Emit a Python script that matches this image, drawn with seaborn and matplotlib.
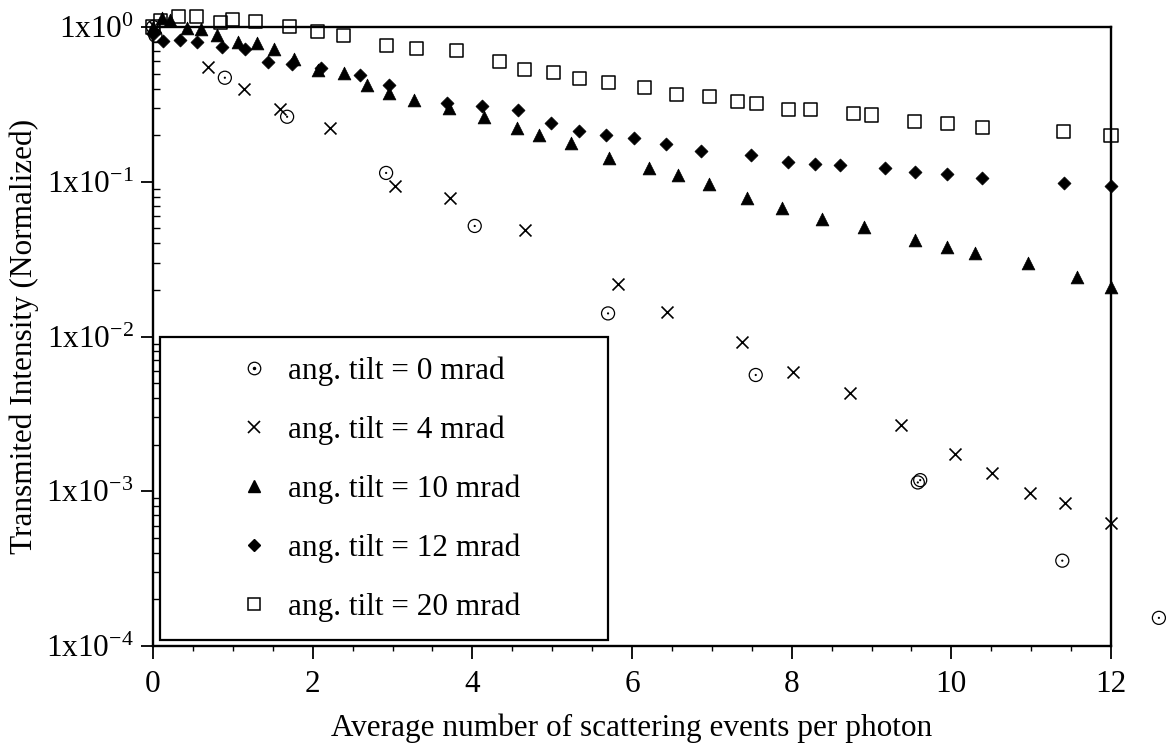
import numpy as np
import pandas as pd
import matplotlib
matplotlib.use("Agg")
import matplotlib.pyplot as plt
import seaborn as sns
from matplotlib.lines import Line2D
from matplotlib.patches import Rectangle
from matplotlib.legend_handler import HandlerTuple
from matplotlib.ticker import FixedLocator, LogLocator, FuncFormatter, MultipleLocator, NullFormatter

# values (x = scattering events, y = normalized intensity)
x_0 = [0.0, 0.03, 0.90, 1.68, 2.92, 4.03, 5.70, 7.55, 9.58, 9.61, 11.39, 12.6]
y_0 = [1.0, 0.88, 0.47, 0.263, 0.114, 0.0518, 0.0141, 0.00564, 0.00114, 0.00118, 0.000356, 0.000152]

x_4 = [0.02, 0.69, 1.14, 1.59, 2.22, 3.03, 3.72, 4.66, 5.82, 6.44, 7.38, 8.02, 8.73,
       9.37, 10.05, 10.51, 10.99, 11.43, 12.0]
y_4 = [1.0, 0.554, 0.396, 0.295, 0.224, 0.094, 0.078, 0.049, 0.0218, 0.0145, 0.00926, 0.00593, 0.0043,
       0.00268, 0.00174, 0.00131, 0.00097, 0.00084, 0.00062]

x_10 = [0.0, 0.11, 0.21, 0.42, 0.60, 0.80, 1.07, 1.30, 1.51, 1.76, 2.07, 2.39, 2.68, 2.95, 3.27, 3.71,
        4.14, 4.56, 4.84, 5.24, 5.71, 6.21, 6.57, 6.97, 7.44, 7.88, 8.38, 8.91, 9.54, 9.95, 10.30,
        10.96, 11.57, 12.0]
y_10 = [1.0, 1.14, 1.11, 0.98, 0.966, 0.89, 0.80, 0.79, 0.718, 0.618, 0.527, 0.502, 0.422, 0.376, 0.335, 0.299,
        0.261, 0.222, 0.201, 0.177, 0.142, 0.122, 0.111, 0.0967, 0.078, 0.0673, 0.0574, 0.0508, 0.042, 0.038, 0.0345,
        0.030, 0.0244, 0.021]

x_12 = [0.0, 0.12, 0.34, 0.555, 0.86, 1.15, 1.44, 1.74, 2.11, 2.59, 2.95, 3.68, 4.12, 4.57, 4.98, 5.33,
        5.67, 6.03, 6.42, 6.87, 7.49, 7.95, 8.29, 8.60, 9.17, 9.54, 9.95, 10.39, 11.41, 12.0]
y_12 = [0.9, 0.816, 0.824, 0.796, 0.739, 0.718, 0.597, 0.577, 0.541, 0.49, 0.422, 0.325, 0.309, 0.291, 0.241, 0.214,
        0.201, 0.191, 0.175, 0.158, 0.149, 0.135, 0.130, 0.128, 0.122, 0.115, 0.112, 0.106, 0.0986, 0.094]

x_20 = [0.0, 0.1, 0.32, 0.54, 0.84, 0.99, 1.29, 1.71, 2.06, 2.39, 2.92, 3.30, 3.80, 4.34, 4.65, 5.02,
        5.34, 5.71, 6.16, 6.56, 6.97, 7.32, 7.56, 7.96, 8.23, 8.78, 9.00, 9.54, 9.95, 10.39, 11.41, 12.0]
y_20 = [1.0, 1.1, 1.17, 1.17, 1.07, 1.12, 1.08, 1.01, 0.93, 0.875, 0.754, 0.73, 0.703, 0.597, 0.533, 0.507,
        0.466, 0.436, 0.408, 0.367, 0.355, 0.329, 0.321, 0.295, 0.291, 0.277, 0.27, 0.244, 0.239, 0.225, 0.21, 0.20]

labels = ['ang. tilt = 0 mrad', 'ang. tilt = 4 mrad', 'ang. tilt = 10 mrad',
          'ang. tilt = 12 mrad', 'ang. tilt = 20 mrad']
y_ticks = [1e-4, 1e-3, 1e-2, 1e-1, 1e0]
x_ticks = [0, 2, 4, 6, 8, 10, 12]

sns.set_style("ticks")
plt.rcParams['font.family'] = ['Liberation Serif', 'DejaVu Serif']
plt.rcParams['mathtext.fontset'] = 'custom'
plt.rcParams['mathtext.rm'] = 'Liberation Serif'
plt.rcParams['mathtext.it'] = 'Liberation Serif:italic'
plt.rcParams['mathtext.bf'] = 'Liberation Serif:bold'
plt.rcParams['mathtext.default'] = 'regular'
plt.rcParams['text.color'] = 'black'
plt.rcParams['axes.labelcolor'] = 'black'
plt.rcParams['xtick.color'] = 'black'
plt.rcParams['ytick.color'] = 'black'

FS = 22.5

fig = plt.figure(figsize=(11.69, 7.46), dpi=100)
ax = fig.add_axes([153 / 1169, 1 - 646 / 746, (1111 - 153) / 1169, (646 - 27) / 746])

common = dict(ax=ax, clip_on=False, legend=False, zorder=3)
sns.scatterplot(x=x_0, y=y_0, marker='o', s=88, facecolor='none', edgecolor='black', linewidth=0.9, **common)
sns.scatterplot(x=x_0, y=y_0, marker='o', s=2.5, color='black', edgecolor='none', linewidth=0, **common)
sns.scatterplot(x=x_4, y=y_4, marker='x', s=74, color='black', linewidth=1.2, **common)
sns.scatterplot(x=x_10, y=y_10, marker='^', s=85, color='black', edgecolor='black', linewidth=0.5, **common)
sns.scatterplot(x=x_12, y=y_12, marker='D', s=44, color='black', edgecolor='black', linewidth=0.5, **common)
sns.scatterplot(x=x_20, y=y_20, marker='s', s=88, facecolor='none', edgecolor='black', linewidth=1.1, **common)

ax.set_yscale('log')
ax.set_xlim(0, 12)
ax.set_ylim(1e-4, 1)

ax.xaxis.set_major_locator(FixedLocator(x_ticks))
ax.xaxis.set_minor_locator(MultipleLocator(0.5))
ax.yaxis.set_major_locator(FixedLocator(y_ticks))
ax.yaxis.set_minor_locator(LogLocator(base=10, subs=np.arange(2, 10)))
ax.yaxis.set_minor_formatter(NullFormatter())
ax.yaxis.set_major_formatter(FuncFormatter(lambda v, p: '1x10$^{%d}$' % int(round(np.log10(v)))))
ax.xaxis.set_major_formatter(FuncFormatter(lambda v, p: '%d' % v))

ax.tick_params(axis='both', which='major', direction='out', length=9, width=1.3,
               labelsize=FS, colors='black', top=False, right=False)
ax.tick_params(axis='x', which='major', pad=8)
ax.tick_params(axis='y', which='major', pad=5)
ax.tick_params(axis='y', which='minor', direction='in', length=5, width=1.0, right=False)
ax.tick_params(axis='x', which='minor', direction='out', length=3.5, width=1.0, top=False)

for side in ['left', 'top', 'right', 'bottom']:
    ax.spines[side].set_visible(True)
    ax.spines[side].set_color('black')
    ax.spines[side].set_linewidth(1.7)

ax.set_xlabel('Average number of scattering events per photon', fontsize=FS, labelpad=11)
ax.set_ylabel('Transmited Intensity (Normalized)', fontsize=FS, labelpad=5)

# legend
ms = 9.0
h_circ = Line2D([], [], ls='none', marker='o', mfc='none', mec='black', ms=ms, mew=0.9)
h_dot = Line2D([], [], ls='none', marker='o', color='black', ms=1.5)
h_x = Line2D([], [], ls='none', marker='x', color='black', ms=ms * 0.9, mew=1.2)
h_tri = Line2D([], [], ls='none', marker='^', color='black', ms=ms)
h_dia = Line2D([], [], ls='none', marker='D', color='black', ms=ms * 0.7)
h_sq = Line2D([], [], ls='none', marker='s', mfc='none', mec='black', ms=ms, mew=1.1)
handles = [(h_circ, h_dot), h_x, h_tri, h_dia, h_sq]

leg = ax.legend(handles, labels, loc='center left', bbox_to_anchor=(0.0856, 0.2532),
                frameon=False, fontsize=FS, handlelength=1.2, handletextpad=0.5,
                labelspacing=0.94, borderpad=0, borderaxespad=0,
                handler_map={tuple: HandlerTuple(ndivide=1, pad=0)})
ax.add_patch(Rectangle((7 / 958, 6 / 619), (608 - 160) / 958, (640 - 337) / 619,
                       transform=ax.transAxes, fill=False, edgecolor='black', linewidth=1.6, zorder=4))

fig.savefig('out.png', dpi=100)
